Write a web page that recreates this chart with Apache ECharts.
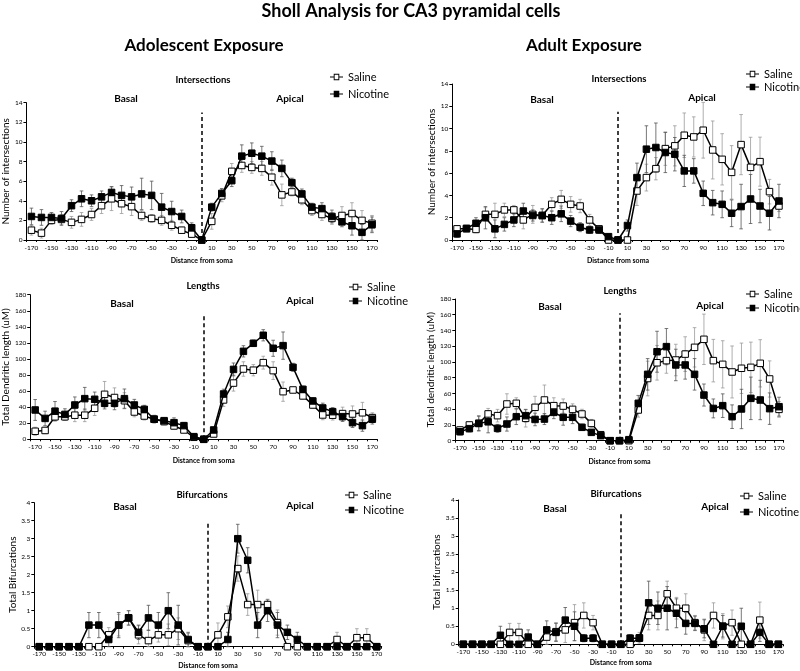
<!DOCTYPE html>
<html><head><meta charset="utf-8">
<script src="https://cdn.jsdelivr.net/npm/echarts/dist/echarts.min.js"></script>
<style>html,body{margin:0;padding:0;background:#fff}#c{width:800px;height:671px}</style>
</head><body><div id="c"></div>
<script>
// ---- data ----
const categories = ['-170','-160','-150','-140','-130','-120','-110','-100','-90','-80','-70','-60','-50','-40','-30','-20','-10','0','10','20','30','40','50','60','70','80','90','100','110','120','130','140','150','160','170'];

// Adolescent exposure — intersections
const adolIntSaline    = [1.0,0.7,2.0,2.1,1.8,2.1,2.6,3.5,4.2,3.7,3.4,2.5,2.2,2.0,1.5,1.0,0.6,0,1.9,4.5,7.0,7.6,7.4,7.3,6.4,4.6,4.9,4.1,3.0,2.6,2.2,2.5,2.7,2.0,1.7];
const adolIntSalineErr = [0.5,0.5,0.4,0.5,0.6,0.7,0.6,0.8,1.2,1.0,0.9,0.5,0.4,0.5,0.5,0.3,0.3,0,0.8,0.6,0.8,0.7,0.6,0.7,0.8,1.1,0.4,0.5,0.5,0.6,0.6,0.9,1.1,1.0,0.8];
const adolIntNicotine    = [2.4,2.3,2.3,2.2,3.5,4.2,4.0,4.4,4.85,4.55,4.4,4.7,4.55,3.35,2.9,2.4,1.25,0,3.35,4.75,6.05,8.55,8.85,8.55,8.05,7.3,5.85,4.7,3.35,3.2,2.4,1.85,1.45,0.78,1.55];
const adolIntNicotineErr = [0.85,0.8,0.5,0.7,0.6,0.8,0.6,0.6,0.6,1.0,1.0,1.6,1.45,1.4,1.05,0.65,0.5,0,0.4,0.5,0.6,1.15,1.05,1.0,0.95,0.85,0.45,0.5,0.4,0.6,0.65,0.5,0.95,0.8,0.8];

// Adult exposure — intersections
const adultIntSaline    = [1.0,1.0,0.95,2.3,2.3,2.7,2.7,1.8,2.3,2.2,3.2,3.65,3.2,3.05,1.8,1.0,0,0,0,4.4,5.6,6.4,8.2,8.45,9.4,9.25,9.85,8.08,7.24,6.07,8.56,6.52,7.03,4.34,3.05];
const adultIntSalineErr = [0.3,0.2,0.3,0.6,1.0,0.6,0.4,0.8,0.8,0.6,0.6,0.8,0.7,0.6,0.5,0.2,0,0,0.2,1.3,1.2,1.0,1.5,1.8,2.0,1.8,2.5,2.6,2.3,2.4,2.7,2.7,2.2,1.1,0.5];
const adultIntNicotine    = [0.55,1.05,1.5,2.0,1.0,1.4,1.8,2.6,2.2,2.2,2.0,2.35,1.7,1.15,0.9,0.9,0.3,0,1.3,5.6,8.15,8.3,7.85,7.7,6.2,6.2,4.19,3.35,3.2,2.4,3.0,3.68,3.05,2.4,3.5];
const adultIntNicotineErr = [0.3,0.2,0.5,1.0,0.8,0.6,0.6,0.7,0.5,0.6,0.6,0.7,0.5,0.4,0.3,0.3,0.2,0,0.5,1.3,2.1,2.2,1.8,1.5,1.4,1.1,1.1,1.1,1.2,1.2,2.0,2.2,1.5,1.5,1.5];

// Adolescent exposure — lengths
const adolLenSaline    = [10,11,28,28,30,30,38.6,56,52,48,34,29,25,22,16.6,11.6,2.5,0,6.6,49,70,87.5,86,95.4,85.5,59.3,61.4,54,42.7,30.3,30,32,31.5,33,27];
const adolLenSalineErr = [5,4,5,4,8,8,9,16,12,10,6,5,5,4,4,3,2,0,3,8,10,9,7,8,11,12,3,4,4,6,6,8,10,13,6];
const adolLenNicotine    = [36.5,26,35,31,42.7,50.6,49.8,44.8,44.8,50.6,42.7,37.3,25,23.2,20.7,17,3.3,0,11.6,56.4,87,109.5,119.5,129.5,113.3,116.6,89.6,62.2,47.7,39,34.4,28.2,20.7,17,25];
const adolLenNicotineErr = [13,9,12,7,10,14,9,7,8,12,7,5,4,3,6,4,2,0,3,6,8,7,4,7,10,17,5,4,4,6,5,6,6,7,6];

// Adult exposure — lengths
const adultLenSaline    = [13.6,20,22,34,31.8,46.6,47.5,28.4,42.4,51.7,44.5,44,39.8,33.9,22,7.6,0,0,0,39,79,99,101.7,102.5,110,118.6,128.8,101.7,97,87.3,92,93.2,98.3,78.4,39.8];
const adultLenSalineErr = [4,3,10,7,8,13,7,11,14,19,10,9,7,6,5,3,0,0,1,9,22,22,16,20,22,25,32,27,30,33,32,32,30,23,10];
const adultLenNicotine    = [11.4,15.3,22,24,15.7,21.2,30.5,31.8,27,27.5,36,29.7,29.7,17,10.6,6.4,0,0,1.3,47.5,84.3,113,119.5,96.2,96.2,84.3,58,41,44.5,30.5,40.3,53.8,51.7,40.7,43.2];
const adultLenNicotineErr = [4,4,9,14,5,9,10,8,8,7,8,10,8,4,3,3,0,0,2,10,20,26,23,20,18,20,14,12,15,15,25,27,25,20,12];

// Adolescent exposure — bifurcations
const adolBifSaline    = [0,0,0,0,0,0,0,0.33,0.6,0.8,0.33,0.17,0.33,0.33,0.5,0.17,0,0,0.33,0.83,2.17,1.17,1.17,1.17,0.67,0,0,0,0,0,0.2,0,0.25,0.25,0];
const adolBifSalineErr = [0,0,0,0,0,0,0,0.2,0.3,0.2,0.25,0.3,0.2,0.3,0.3,0.2,0,0,0.33,0.3,0.35,0.3,0.4,0.15,0.35,0,0,0,0,0,0.2,0,0.25,0.25,0];
const adolBifNicotine    = [0,0,0,0,0,0.6,0.6,0.2,0.6,0.8,0.4,0.8,0.6,1.0,0.6,0.2,0,0,0,0.2,3.0,2.4,0.6,1.0,0.6,0.4,0.2,0,0,0,0,0,0,0,0];
const adolBifNicotineErr = [0,0,0,0,0,0.35,0.35,0.2,0.35,0.2,0.2,0.35,0.35,0.5,0.55,0.2,0,0,0,0.2,0.4,0.35,0.35,0.3,0.35,0.2,0.2,0,0,0,0,0,0,0,0];

// Adult exposure — bifurcations
const adultBifSaline    = [0,0,0,0,0,0.33,0.33,0,0,0.2,0.35,0.4,0.6,0.8,0.6,0,0,0,0,0.18,0.8,0.8,1.4,1.0,1.0,0.6,0.4,0.8,0.5,0.6,0,0,0.67,0,0];
const adultBifSalineErr = [0,0,0,0,0,0.25,0.25,0,0,0.2,0.25,0.35,0.5,0.35,0.2,0,0,0,0,0.15,0.4,0.4,0.35,0.3,0.4,0.2,0.3,0.35,0.35,0.35,0,0,0.5,0,0];
const adultBifNicotine    = [0,0,0,0,0.25,0,0,0.2,0,0.4,0.33,0.67,0.5,0.17,0.17,0,0,0,0.17,0.17,1.15,1.0,1.0,0.86,0.58,0.58,0.43,0,0.5,0,0.5,0,0.33,0,0];
const adultBifNicotineErr = [0,0,0,0,0.25,0,0,0.2,0,0.25,0.25,0.35,0.4,0.1,0.1,0,0,0,0.1,0.1,0.6,0.45,0.6,0.4,0.3,0.2,0.25,0,0.3,0,0.5,0,0.25,0,0];

// ---- layout & build ----
const FONT = 'Lato, "Open Sans", sans-serif';
const panels = [
  {grid:{left:24,top:102.7,width:353,height:137.3}, max:14, int:2, yName:'Number of intersections', yGap:13, xName:'Distance from soma', xGap:17,
   s:adolIntSaline, se:adolIntSalineErr, n:adolIntNicotine, ne:adolIntNicotineErr, dash:13, lg:{left:330,top:71,gap:5}},
  {grid:{left:452.3,top:84,width:331.4,height:156}, max:14, int:2, yName:'Number of intersections', yGap:14, xName:'Distance from soma', xGap:17,
   s:adultIntSaline, se:adultIntSalineErr, n:adultIntNicotine, ne:adultIntNicotineErr, dash:11.5, lg:{left:746,top:68,gap:1}},
  {grid:{left:29.3,top:294.7,width:348,height:144.6}, max:180, int:20, yName:'Total Dendritic length (uM)', yGap:16, xName:'Distance from soma', xGap:18,
   s:adolLenSaline, se:adolLenSalineErr, n:adolLenNicotine, ne:adolLenNicotineErr, dash:157, lg:{left:349,top:281,gap:2}},
  {grid:{left:455.3,top:299,width:328.4,height:141.7}, max:180, int:20, yName:'Total dendritic length (uM)', yGap:17, xName:'Distance from soma', xGap:18,
   s:adultLenSaline, se:adultLenSalineErr, n:adultLenNicotine, ne:adultLenNicotineErr, dash:162, lg:{left:746,top:288,gap:2}},
  {grid:{left:34.3,top:502.7,width:347.4,height:144}, max:4, int:0.5, yName:'Total Bifurcations', yGap:16, xName:'Distance fom soma', xGap:16,
   s:adolBifSaline, se:adolBifSalineErr, n:adolBifNicotine, ne:adolBifNicotineErr, dash:3.5, lg:{left:345,top:489,gap:3}},
  {grid:{left:458.7,top:500,width:324.3,height:144.3}, max:4, int:0.5, yName:'Total bifurcations', yGap:16, xName:'Distance from soma', xGap:15,
   s:adultBifSaline, se:adultBifSalineErr, n:adultBifNicotine, ne:adultBifNicotineErr, dash:3.64, lg:{left:740,top:490,gap:4}}
];

// legend icons: dash – square – dash (hollow for Saline, filled for Nicotine)
const ICON_HOLLOW = 'path://M0,3L4,3L4,0L10,0L10,3L14,3L14,4L10,4L10,7L4,7L4,4L0,4ZM5,1L5,6L9,6L9,1Z';
const ICON_FILLED = 'path://M0,3L4,3L4,0L10,0L10,3L14,3L14,4L10,4L10,7L4,7L4,4L0,4Z';

function errSeries(i, vals, errs, color){
  return {
    type:'custom', name:'err'+i+color, xAxisIndex:i, yAxisIndex:i, z:1, silent:true,
    encode:{x:0, y:[1,2]},
    data: vals.map((v,k)=>[k, Math.max(0, v-errs[k]), v+errs[k]]),
    renderItem: function(params, api){
      const x = api.value(0), lo = api.value(1), hi = api.value(2);
      if (hi - lo <= 0) return;
      const a = api.coord([x, hi]), b = api.coord([x, lo]);
      const st = {stroke:color, lineWidth:0.8};
      return {type:'group', children:[
        {type:'line', shape:{x1:a[0],y1:a[1],x2:b[0],y2:b[1]}, style:st},
        {type:'line', shape:{x1:a[0]-1.8,y1:a[1],x2:a[0]+1.8,y2:a[1]}, style:st},
        {type:'line', shape:{x1:b[0]-1.8,y1:b[1],x2:b[0]+1.8,y2:b[1]}, style:st}
      ]};
    }
  };
}

const option = {animation:false, backgroundColor:'#fff', textStyle:{fontFamily:FONT},
  grid:[], xAxis:[], yAxis:[], series:[], legend:[], graphic:{elements:[]}};

panels.forEach((p,i)=>{
  option.grid.push(Object.assign({containLabel:false}, p.grid));
  option.xAxis.push({type:'category', gridIndex:i, data:categories, boundaryGap:true,
    axisLine:{lineStyle:{color:'#000', width:1}},
    axisTick:{show:true, interval:0, length:2, lineStyle:{color:'#000'}},
    axisLabel:{interval:1, fontSize:6.5, color:'#000', margin:4, fontFamily:FONT},
    name:p.xName, nameLocation:'middle', nameGap:p.xGap,
    nameTextStyle:{fontSize:7, fontWeight:'bold', color:'#000', fontFamily:FONT}});
  option.yAxis.push({type:'value', gridIndex:i, min:0, max:p.max, interval:p.int,
    axisLine:{show:true, lineStyle:{color:'#000', width:1}},
    axisTick:{show:true, length:3, lineStyle:{color:'#000'}},
    splitLine:{show:false},
    axisLabel:{fontSize:6.5, color:'#000', margin:4, fontFamily:FONT},
    name:p.yName, nameLocation:'middle', nameRotate:90, nameGap:p.yGap,
    nameTextStyle:{fontSize:10, color:'#000', fontFamily:FONT}});
  option.series.push(errSeries(i, p.s, p.se, '#9a9a9a'));
  option.series.push(errSeries(i, p.n, p.ne, '#555'));
  option.series.push({type:'line', name:'Saline', xAxisIndex:i, yAxisIndex:i, data:p.s, z:3,
    symbol:'rect', symbolSize:6.5, showAllSymbol:true,
    lineStyle:{color:'#000', width:1.5}, itemStyle:{color:'#fff', borderColor:'#000', borderWidth:1},
    markLine:{silent:true, symbol:'none', label:{show:false}, lineStyle:{type:[4,3], color:'#000', width:1.5},
      data:[[{coord:[17,0]},{coord:[17,p.dash]}]]}});
  option.series.push({type:'line', name:'Nicotine', xAxisIndex:i, yAxisIndex:i, data:p.n, z:4,
    symbol:'rect', symbolSize:6.5, showAllSymbol:true,
    lineStyle:{color:'#000', width:1.5}, itemStyle:{color:'#000', borderColor:'#000', borderWidth:1}});
  option.legend.push({
    data:[{name:'Saline', icon:ICON_HOLLOW, itemStyle:{color:'#000', borderWidth:0}},
          {name:'Nicotine', icon:ICON_FILLED, itemStyle:{color:'#000', borderWidth:0}}],
    orient:'vertical', left:p.lg.left, top:p.lg.top, padding:0,
    itemGap:p.lg.gap, itemWidth:13, itemHeight:7, selectedMode:false,
    itemStyle:{color:'#000', borderWidth:0}, lineStyle:{width:0, opacity:0},
    textStyle:{fontSize:11, color:'#000', fontFamily:FONT, lineHeight:12}});
});

function txt(t, x, y, size, bold){
  return {type:'text', silent:true, style:{text:t, x:x, y:y, fill:'#000',
    font:(bold?'bold ':'')+size+'px '+FONT, textAlign:'center', textVerticalAlign:'middle',
    align:'center', verticalAlign:'middle'}};
}
option.graphic.elements.push(
  txt('Sholl Analysis for CA3 pyramidal cells', 411, 11, 18, true),
  txt('Adolescent Exposure', 204, 46, 17, true),
  txt('Adult Exposure', 584, 46, 17, true),
  txt('Intersections', 203, 80, 9.5, true),
  txt('Intersections', 619, 79, 9.5, true),
  txt('Lengths', 203, 286, 9.5, true),
  txt('Lengths', 620, 291, 9.5, true),
  txt('Bifurcations', 202, 495, 9.5, true),
  txt('Bifurcations', 616, 494, 9.5, true),
  txt('Basal', 126, 99, 10, true), txt('Apical', 290, 99, 10, true),
  txt('Basal', 542, 100, 10, true), txt('Apical', 702, 98, 10, true),
  txt('Basal', 122, 304, 10, true), txt('Apical', 300, 301, 10, true),
  txt('Basal', 550, 307, 10, true), txt('Apical', 710, 306, 10, true),
  txt('Basal', 125, 507, 10, true), txt('Apical', 300, 506, 10, true),
  txt('Basal', 555, 509, 10, true), txt('Apical', 715, 507, 10, true)
);

const chart = echarts.init(document.getElementById('c'), null, {renderer:'canvas'});
chart.setOption(option);
</script></body></html>
